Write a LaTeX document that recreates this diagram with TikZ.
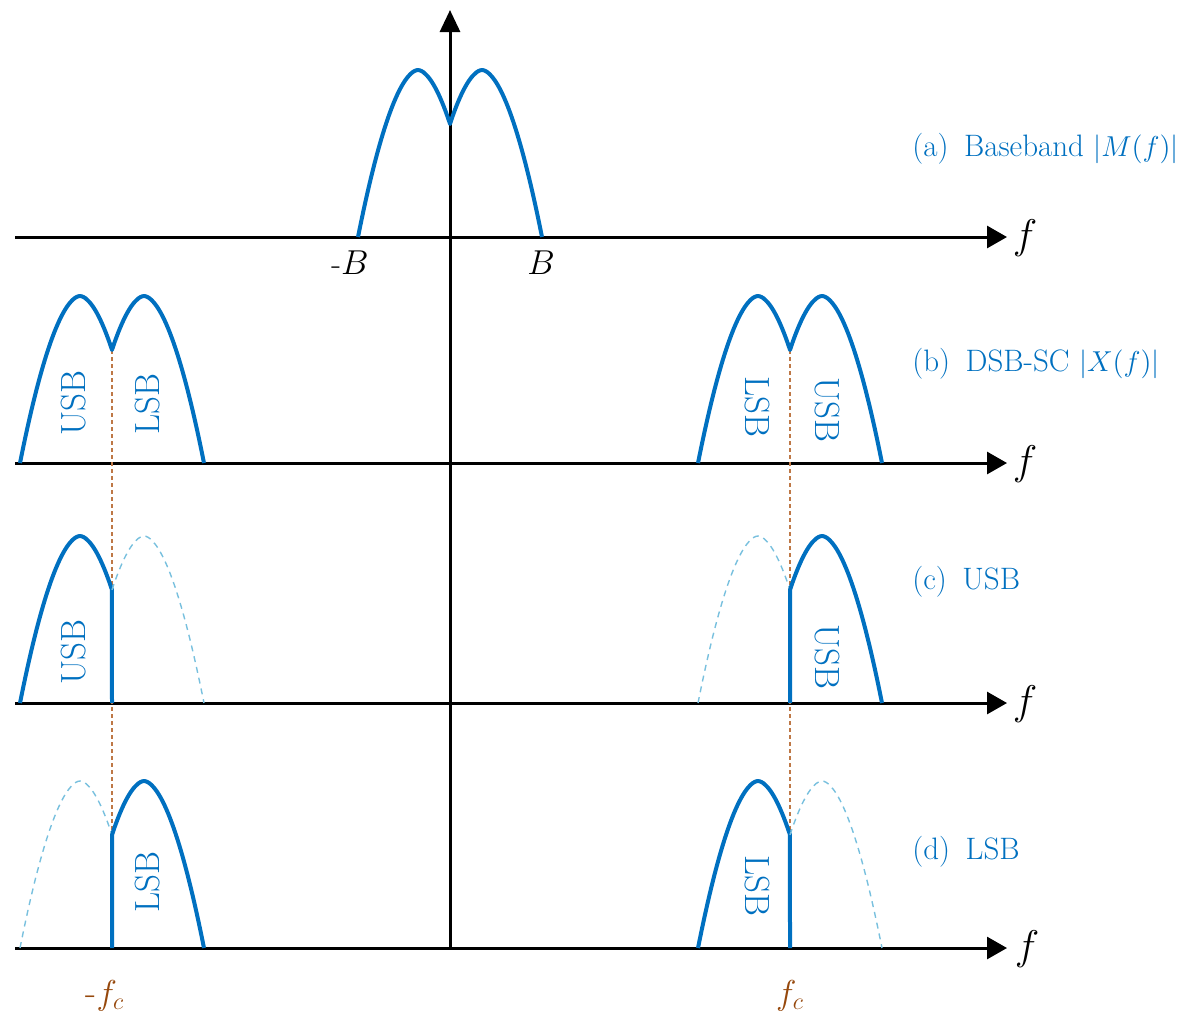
\documentclass[tikz,border=0pt]{standalone}
\usepackage{fontspec}
\usetikzlibrary{arrows.meta}
\definecolor{mblue}{RGB}{0,112,192}
\definecolor{lblue}{RGB}{120,192,222}
\definecolor{brn}{RGB}{150,72,12}
\definecolor{brnl}{RGB}{190,120,70}
\tikzset{
  declare function={lobe(\u)=167*(1-(abs(\u)+0.0001)^1.8);},
  LD/.style={domain=-1:0.533,samples=50},
  RD/.style={domain=-0.533:1,samples=50},
  axis/.style={line width=1.5pt,-{Triangle[length=10pt,width=11pt]}},
  band/.style={mblue,line width=2pt,line join=round},
  ghost/.style={lblue,line width=0.7pt,dash pattern=on 3pt off 2.5pt},
  cline/.style={brnl,line width=0.7pt,dash pattern=on 2pt off 1.5pt},
  lab/.style={mblue,font=\fontsize{15.5}{17}\selectfont,anchor=base west,inner sep=0pt},
  blab/.style={mblue,font=\fontsize{17.5}{19}\selectfont,inner sep=0pt},
  flab/.style={font=\fontsize{20}{22}\selectfont,inner sep=0pt},
  blimit/.style={font=\fontsize{16}{18}\selectfont,inner sep=0pt},
  fclab/.style={brn,font=\fontsize{18}{20}\selectfont,inner sep=0pt},
}
\begin{document}
\begin{tikzpicture}[x=0.5pt,y=-0.5pt]
\useasboundingbox (0,0) rectangle (1200,1014);
% axes
\coordinate (a0) at (15,237);  \coordinate (a1) at (1007,237);
\coordinate (b0) at (15,463);  \coordinate (b1) at (1007,463);
\coordinate (c0) at (15,703);  \coordinate (c1) at (1007,703);
\coordinate (d0) at (15,948);  \coordinate (d1) at (1007,948);
\coordinate (v0) at (450,948); \coordinate (v1) at (450,10);
\draw[axis] (a0) -- (a1);
\draw[axis] (b0) -- (b1);
\draw[axis] (c0) -- (c1);
\draw[axis] (d0) -- (d1);
\draw[axis,-{Triangle[length=11pt,width=10pt]}] (v0) -- (v1);
% carrier dashed lines
\coordinate (lt) at (112,350); \coordinate (lb) at (112,948);
\coordinate (rt) at (790,350); \coordinate (rb) at (790,948);
\draw[cline] (lt) -- (lb);
\draw[cline] (rt) -- (rb);
% (a) baseband
\draw[band] plot[LD] ({418+60*\x},{237-lobe(\x)}) -- plot[RD] ({482+60*\x},{237-lobe(\x)});
% (b) DSB-SC
\draw[band] plot[LD] ({80+60*\x},{463-lobe(\x)}) -- plot[RD] ({144+60*\x},{463-lobe(\x)});
\draw[band] plot[LD] ({758+60*\x},{463-lobe(\x)}) -- plot[RD] ({822+60*\x},{463-lobe(\x)});
% (c) USB
\draw[band] plot[LD] ({80+60*\x},{703-lobe(\x)}) -- (112,703);
\draw[ghost] plot[RD] ({144+60*\x},{703-lobe(\x)});
\draw[ghost] plot[LD] ({758+60*\x},{703-lobe(\x)});
\draw[band] (790,703) -- plot[RD] ({822+60*\x},{703-lobe(\x)});
% (d) LSB
\draw[ghost] plot[LD] ({80+60*\x},{948-lobe(\x)});
\draw[band] (112,948) -- plot[RD] ({144+60*\x},{948-lobe(\x)});
\draw[band] plot[LD] ({758+60*\x},{948-lobe(\x)}) -- (790,948);
\draw[ghost] plot[RD] ({822+60*\x},{948-lobe(\x)});
% band labels
\node[blab,rotate=90]  (u1) at (74,403)  {USB};
\node[blab,rotate=90]  (l1) at (148,404) {LSB};
\node[blab,rotate=-90] (l2) at (757,407) {LSB};
\node[blab,rotate=-90] (u2) at (827,410) {USB};
\node[blab,rotate=90]  (u3) at (74,652)  {USB};
\node[blab,rotate=-90] (u4) at (827,657) {USB};
\node[blab,rotate=90]  (l3) at (148,882) {LSB};
\node[blab,rotate=-90] (l4) at (757,886) {LSB};
% right labels
\node[lab] (ta) at (912,156) {(a)\enspace Baseband $|M(f)|$};
\node[lab] (tb) at (912,371) {(b)\enspace DSB-SC $|X(f)|$};
\node[lab] (tc) at (912,589) {(c)\enspace USB};
\node[lab] (td) at (912,859) {(d)\enspace LSB};
% axis labels
\node[flab] (fa) at (1025,238) {$f$};
\node[flab] (fb) at (1025,464) {$f$};
\node[flab] (fc) at (1025,704) {$f$};
\node[flab] (fd) at (1027,949) {$f$};
\node[blimit] (mB) at (350,263) {-$B$};
\node[blimit] (pB) at (541,263) {$B$};
\node[fclab] (mfc) at (105,996) {-$f_c$};
\node[fclab] (pfc) at (790,996) {$f_c$};
\end{tikzpicture}
\end{document}
